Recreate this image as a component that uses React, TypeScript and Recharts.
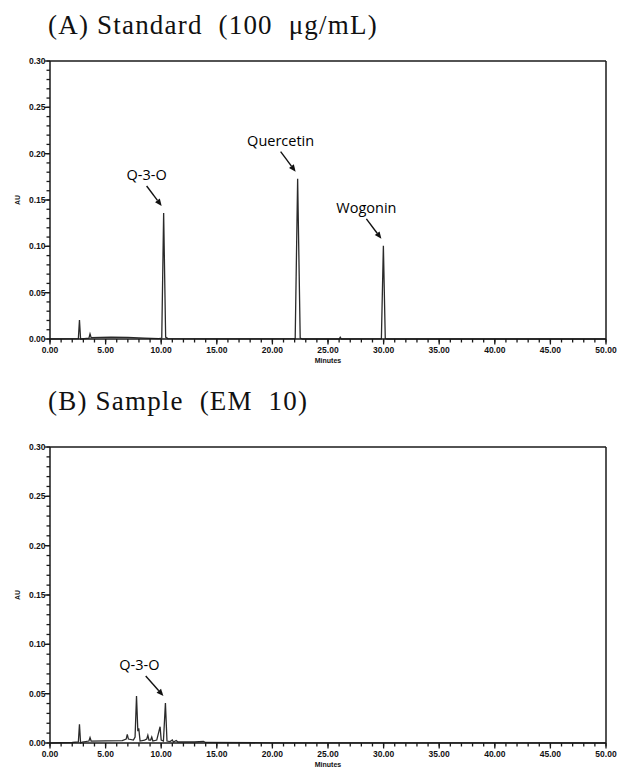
import { LineChart, Line, XAxis, YAxis, ReferenceLine, ReferenceDot } from 'recharts';

// retention time (min) / absorbance (AU)
const standardTime = [0, 2.55, 2.65, 2.75, 2.85, 3.5, 3.6, 3.7, 4.5, 5.5, 7.0, 8.5, 9.8, 10.05, 10.22, 10.4, 10.6, 14, 20, 22.05, 22.27, 22.5, 22.7, 26.0, 26.1, 26.2, 29.8, 29.98, 30.15, 30.3, 50];
const standardAU = [0, 0.0005, 0.0205, 0, 0, 0.0008, 0.0055, 0.0015, 0.0018, 0.002, 0.0017, 0.001, 0.0005, 0.001, 0.136, 0.002, 0.0005, 0.0002, 0.0001, 0.0005, 0.173, 0.001, 0, 0, 0.002, 0, 0.0002, 0.1005, 0.0005, 0, 0];

const sampleTime = [0, 2.0, 2.55, 2.65, 2.75, 2.9, 3.5, 3.6, 3.7, 5, 6.5, 6.85, 6.95, 7.05, 7.5, 7.65, 7.78, 7.9, 7.98, 8.1, 8.5, 8.7, 8.8, 8.9, 9.05, 9.15, 9.25, 9.6, 9.8, 9.9, 10.0, 10.2, 10.38, 10.52, 10.8, 11.0, 11.1, 11.35, 11.5, 13, 13.8, 14, 20, 50];
const sampleAU = [0, 0.0005, 0.001, 0.019, 0, 0.001, 0.002, 0.0055, 0.002, 0.0022, 0.0025, 0.004, 0.0088, 0.004, 0.003, 0.006, 0.0476, 0.012, 0.015, 0.002, 0.003, 0.004, 0.0078, 0.003, 0.003, 0.006, 0.002, 0.003, 0.012, 0.0165, 0.003, 0.002, 0.0405, 0.002, 0.0015, 0.003, 0.001, 0.0025, 0.001, 0.001, 0.0015, 0.0005, 0.0002, 0];

const standardPeaks = ['Q-3-O', 'Quercetin', 'Wogonin'];
const standardPeakTime = [10.22, 22.27, 29.98];
const standardPeakAU = [0.136, 0.173, 0.1005];

const samplePeaks = ['Q-3-O'];
const samplePeakTime = [10.38];
const samplePeakAU = [0.0405];

const xMajor = [0, 5, 10, 15, 20, 25, 30, 35, 40, 45, 50];
const yMajor = [0, 0.05, 0.1, 0.15, 0.2, 0.25, 0.3];
const xTicks = Array.from({ length: 51 }, (_, i) => i);
const yTicks = Array.from({ length: 31 }, (_, i) => i / 100);

const tickFont = { fontFamily: 'Liberation Sans, Arial, sans-serif', fontSize: 8.5, fontWeight: 'bold' as const, fill: '#111' };
const ink = '#1a1a1a';
const minorLen = 3.5;

// native tick lines give the minor marks; majors get a longer mark and a label here
const XTick = (props: any) => {
  const { x, y, payload } = props;
  if (!xMajor.includes(payload.value)) return <g />;
  return (
    <g>
      <line x1={x} y1={y - minorLen} x2={x} y2={y + 2} stroke={ink} strokeWidth={1.3} />
      <text x={x} y={y + 10} textAnchor="middle" {...tickFont}>
        {payload.value.toFixed(2)}
      </text>
    </g>
  );
};

const YTick = (props: any) => {
  const { x, y, payload } = props;
  if (!yMajor.some((m) => Math.abs(m - payload.value) < 1e-6)) return <g />;
  return (
    <g>
      <line x1={x + minorLen} y1={y} x2={x - 2} y2={y} stroke={ink} strokeWidth={1.3} />
      <text x={x - 1} y={y + 3} textAnchor="end" {...tickFont}>
        {payload.value.toFixed(2)}
      </text>
    </g>
  );
};

const Callout = ({ cx, cy, name, dx = 0 }: any) => {
  const x1 = cx - 17 + dx * 0.3;
  const y1 = cy - 27;
  const x2 = cx - 2;
  const y2 = cy - 7;
  const len = Math.hypot(x2 - x1, y2 - y1);
  const ux = (x2 - x1) / len;
  const uy = (y2 - y1) / len;
  const hx = x2 - ux * 7;
  const hy = y2 - uy * 7;
  return (
    <g>
      <line x1={x1} y1={y1} x2={hx} y2={hy} stroke="#111" strokeWidth={1.4} />
      <polygon
        points={`${x2},${y2} ${hx - uy * 3},${hy + ux * 3} ${hx + uy * 3},${hy - ux * 3}`}
        fill="#111"
      />
      <text x={cx - 17 + dx} y={cy - 33} textAnchor="middle" fontFamily="Open Sans, sans-serif" fontSize={14.5} fill="#000">
        {name}
      </text>
    </g>
  );
};

const Chromatogram = ({ time, au, names, peakTime, peakAU, height, top, bottom, labelDx }: any) => {
  const data = time.map((t: number, i: number) => ({ t, au: au[i] }));
  return (
    <LineChart width={628} height={height} data={data} margin={{ top, right: 22, left: 0, bottom }}>
      <XAxis
        dataKey="t"
        type="number"
        domain={[0, 50]}
        ticks={xTicks}
        interval={0}
        tickLine={{ stroke: ink, strokeWidth: 1.3 }}
        tickSize={minorLen}
        tickMargin={0}
        tick={<XTick />}
        axisLine={{ stroke: ink, strokeWidth: 1.5 }}
        height={24}
        label={(p: any) => (
          <text x={p.viewBox.x + p.viewBox.width / 2} y={p.viewBox.y + 24} textAnchor="middle" {...tickFont} fontSize={7}>
            Minutes
          </text>
        )}
      />
      <YAxis
        type="number"
        domain={[0, 0.3]}
        ticks={yTicks}
        interval={0}
        tickLine={{ stroke: ink, strokeWidth: 1.3 }}
        tickSize={minorLen}
        tickMargin={0}
        tick={<YTick />}
        axisLine={{ stroke: ink, strokeWidth: 1.5 }}
        width={50}
        label={(p: any) => {
          const cx = 18;
          const cy = p.viewBox.y + p.viewBox.height / 2;
          return (
            <text x={cx} y={cy} transform={`rotate(-90 ${cx} ${cy})`} textAnchor="middle" dominantBaseline="middle" {...tickFont} fontSize={7}>
              AU
            </text>
          );
        }}
      />
      <ReferenceLine y={0.3} stroke={ink} strokeWidth={1.5} />
      <ReferenceLine x={50} stroke={ink} strokeWidth={1.5} />
      <Line type="linear" dataKey="au" stroke="#2a2a2a" strokeWidth={1.3} dot={false} isAnimationActive={false} />
      {names.map((n: string, i: number) => (
        <ReferenceDot
          key={n}
          x={peakTime[i]}
          y={peakAU[i]}
          r={0}
          shape={(p: any) => <Callout cx={p.cx} cy={p.cy} name={n} dx={labelDx} />}
        />
      ))}
    </LineChart>
  );
};

const titleStyle = {
  position: 'absolute' as const,
  left: 48,
  fontFamily: 'Liberation Serif, serif',
  fontSize: 27,
  letterSpacing: '1.2px',
  whiteSpace: 'pre' as const,
  color: '#111',
  lineHeight: '32px',
};

export default function App() {
  return (
    <div style={{ position: 'absolute', left: 0, top: 0, width: 628, height: 769, background: '#fff', overflow: 'hidden' }}>
      <div style={{ ...titleStyle, top: 9 }}>(A) Standard  (100  μg/mL)</div>
      <div style={{ position: 'absolute', left: 0, top: 0 }}>
        <Chromatogram
          time={standardTime}
          au={standardAU}
          names={standardPeaks}
          peakTime={standardPeakTime}
          peakAU={standardPeakAU}
          top={61}
          bottom={7}
          height={370}
          labelDx={0}
        />
      </div>
      <div style={{ ...titleStyle, top: 385 }}>(B) Sample  (EM  10)</div>
      <div style={{ position: 'absolute', left: 0, top: 386 }}>
        <Chromatogram
          time={sampleTime}
          au={sampleAU}
          names={samplePeaks}
          peakTime={samplePeakTime}
          peakAU={samplePeakAU}
          top={61}
          bottom={0}
          height={381}
          labelDx={-9}
        />
      </div>
    </div>
  );
}
